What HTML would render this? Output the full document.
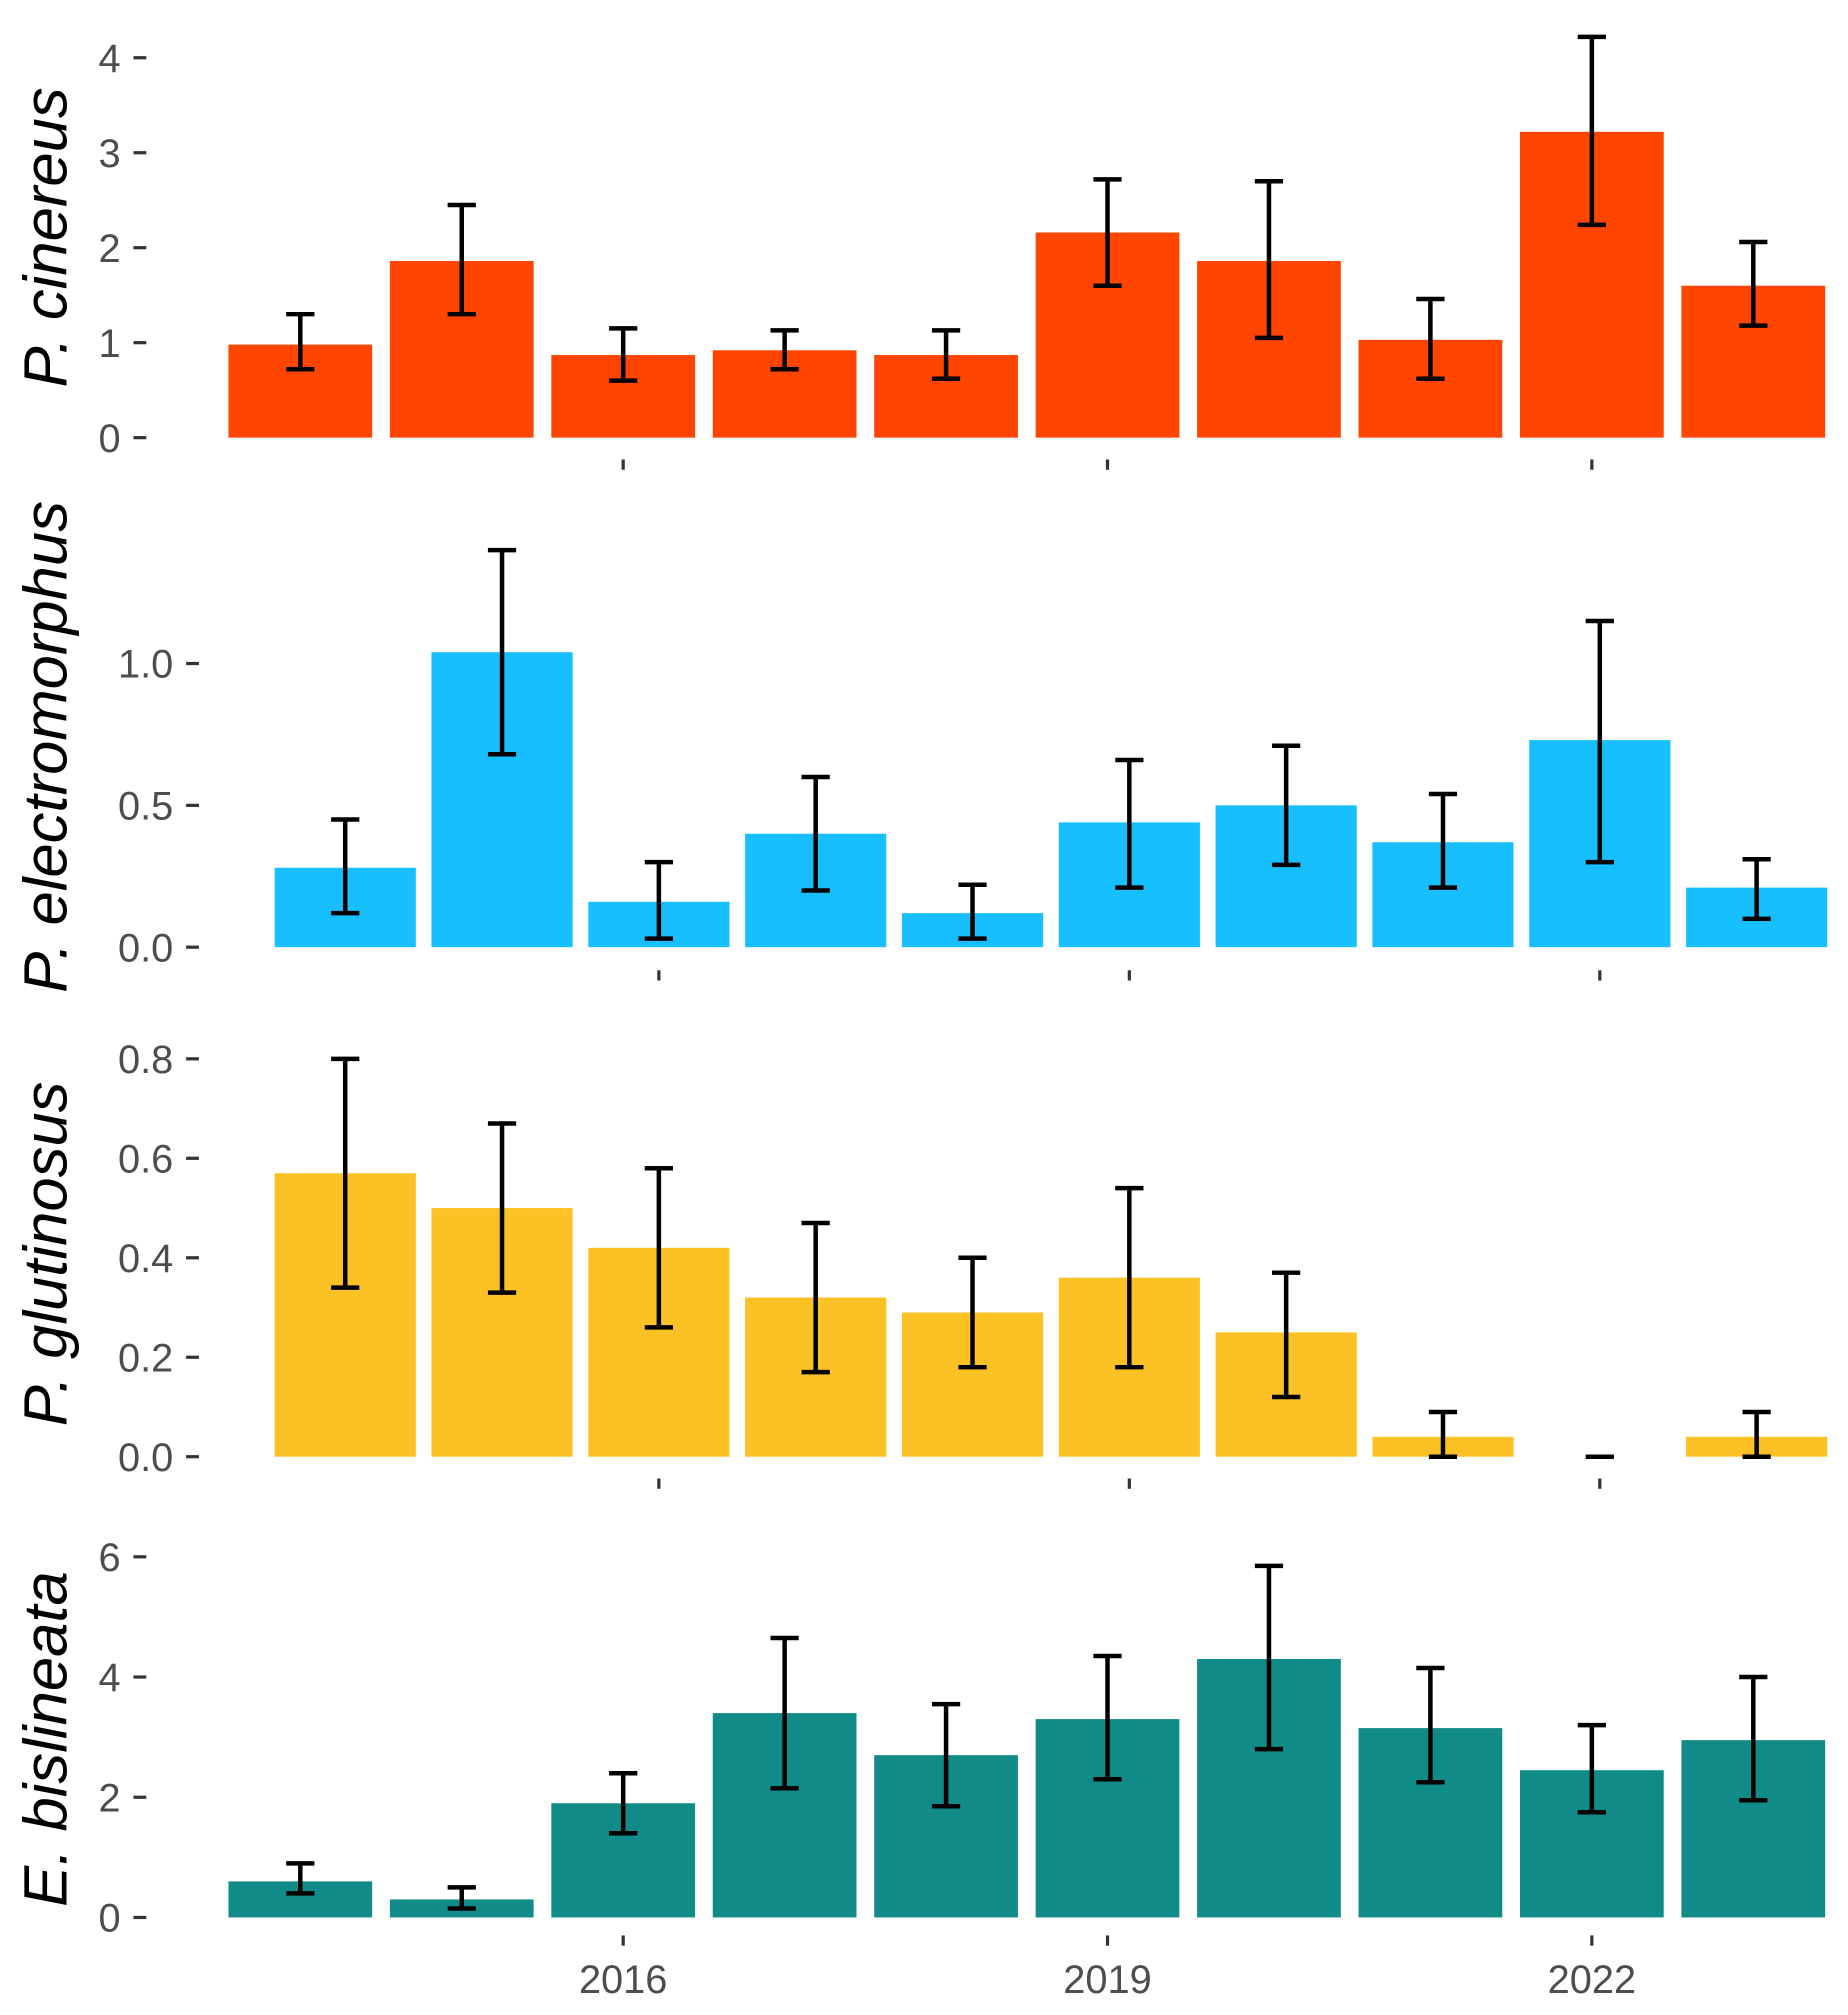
<!DOCTYPE html>
<html><head><meta charset="utf-8"><style>html,body{margin:0;padding:0;background:#fff}svg{display:block}</style></head>
<body>
<svg id="c" width="1848" height="2015" viewBox="0 0 1440 1570" preserveAspectRatio="none" xmlns="http://www.w3.org/2000/svg" font-family="Liberation Sans, sans-serif"></svg>
<script>
const years=[2014,2015,2016,2017,2018,2019,2020,2021,2022,2023];
const xTickYears=[2016,2019,2022];
const cinVal=[0.98,1.86,0.87,0.92,0.87,2.16,1.86,1.03,3.22,1.6];
const cinLo=[0.72,1.3,0.6,0.72,0.62,1.6,1.05,0.62,2.24,1.18];
const cinHi=[1.3,2.45,1.15,1.13,1.13,2.72,2.7,1.46,4.22,2.06];
const eleVal=[0.28,1.04,0.16,0.4,0.12,0.44,0.5,0.37,0.73,0.21];
const eleLo=[0.12,0.68,0.03,0.2,0.03,0.21,0.29,0.21,0.3,0.1];
const eleHi=[0.45,1.4,0.3,0.6,0.22,0.66,0.71,0.54,1.15,0.31];
const gluVal=[0.57,0.5,0.42,0.32,0.29,0.36,0.25,0.04,0,0.04];
const gluLo=[0.34,0.33,0.26,0.17,0.18,0.18,0.12,0,0,0];
const gluHi=[0.8,0.67,0.58,0.47,0.4,0.54,0.37,0.09,0,0.09];
const bisVal=[0.6,0.3,1.9,3.4,2.7,3.3,4.3,3.15,2.45,2.95];
const bisLo=[0.4,0.15,1.4,2.15,1.85,2.3,2.8,2.25,1.75,1.95];
const bisHi=[0.9,0.5,2.4,4.65,3.55,4.35,5.85,4.15,3.2,4.0];
const cinTicks=[0,1,2,3,4];
const eleTicks=["0.0","0.5","1.0"];
const gluTicks=["0.0","0.2","0.4","0.6","0.8"];
const bisTicks=[0,2,4,6];

const NS="http://www.w3.org/2000/svg";
const svg=document.getElementById('c');
function mk(tag,attrs,parent){const e=document.createElementNS(NS,tag);for(const k in attrs)e.setAttribute(k,attrs[k]);(parent||svg).appendChild(e);return e;}

const panels=[
 {key:'cin',title:'P. cinereus',val:cinVal,lo:cinLo,hi:cinHi,ticks:cinTicks,color:'#FF4500',y0:341,ymax:4,ymaxPx:45,x0:234,dx:125.8,bw:112,tickY:358,titleY:185,labels:false,ax:114},
 {key:'ele',title:'P. electromorphus',val:eleVal,lo:eleLo,hi:eleHi,ticks:eleTicks,color:'#17BFFF',y0:738,ymax:1,ymaxPx:517,x0:269,dx:122.2,bw:110,tickY:756,titleY:582,labels:false,ax:155},
 {key:'glu',title:'P. glutinosus',val:gluVal,lo:gluLo,hi:gluHi,ticks:gluTicks,color:'#FCC125',y0:1135,ymax:0.8,ymaxPx:825,x0:269,dx:122.2,bw:110,tickY:1152,titleY:977,labels:false,ax:155},
 {key:'bis',title:'E. bislineata',val:bisVal,lo:bisLo,hi:bisHi,ticks:bisTicks,color:'#118B87',y0:1494,ymax:6,ymaxPx:1213,x0:234,dx:125.8,bw:112,tickY:1508,titleY:1355,labels:true,ax:114}
];
panels.forEach(p=>{
 const g=mk('g',{});
 
 
 const y=v=>p.y0-(v/p.ymax)*(p.y0-p.ymaxPx);
 const x=yr=>p.x0+(yr-years[0])*p.dx;
 p.ticks.forEach(t=>{
  const v=parseFloat(t), yy=y(v);
  const tk=mk('line',{x1:p.ax-10,x2:p.ax,y1:yy,y2:yy,stroke:'#333','stroke-width':2.5},g);
  
  
  const tx=mk('text',{x:p.ax-20,y:yy+11,'text-anchor':'end','font-size':31,fill:'#4d4d4d'},g);
  tx.textContent=t;
  
  
 });
 years.forEach((yr,i)=>{
  const cx=x(yr);
  const b=mk('rect',{x:cx-p.bw/2,y:y(p.val[i]),width:p.bw,height:Math.max(0,p.y0-y(p.val[i])),fill:p.color},g);
  
  
  const e=mk('path',{d:`M${cx-11},${y(p.hi[i])}H${cx+11}M${cx},${y(p.hi[i])}V${y(p.lo[i])}M${cx-11},${y(p.lo[i])}H${cx+11}`,stroke:'#000','stroke-width':3.5,fill:'none'},g);
  
  
 });
 xTickYears.forEach(yr=>{
  const cx=x(yr);
  const tk=mk('line',{x1:cx,x2:cx,y1:p.tickY,y2:p.tickY+8,stroke:'#333','stroke-width':2.5},g);
  
  
  if(p.labels){
   const t=mk('text',{x:cx,y:1553,'text-anchor':'middle','font-size':31,fill:'#4d4d4d'},g);
   t.textContent=yr;
   
   
  }
 });
 const tt=mk('text',{x:0,y:0,'text-anchor':'middle','font-size':48,'font-style':'italic',fill:'#000',transform:`translate(52,${p.titleY}) rotate(-90)`},g);
 tt.textContent=p.title;
 
 
});
</script>
</body></html>
